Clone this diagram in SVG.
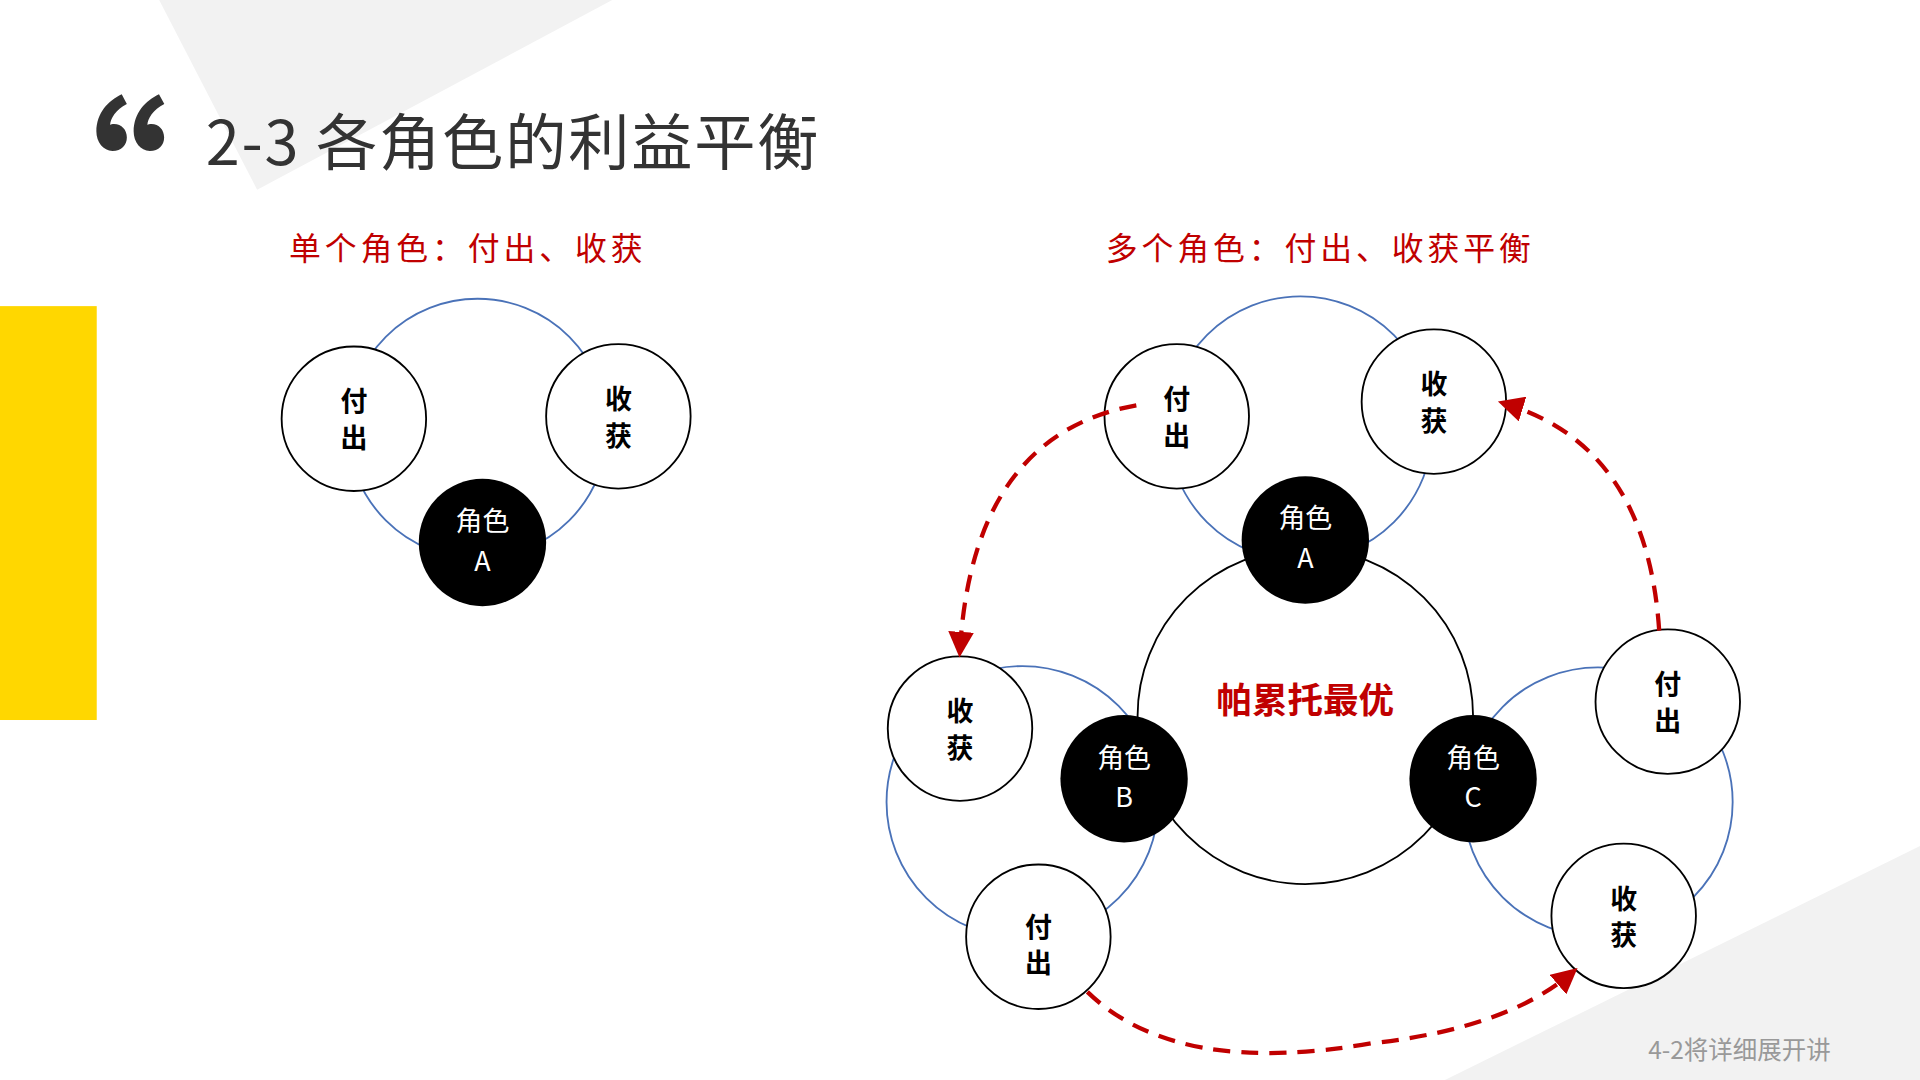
<svg xmlns="http://www.w3.org/2000/svg" width="1920" height="1080" viewBox="0 0 1920 1080">
<defs>
<style>
.t{font-family:"Noto Sans CJK SC","Liberation Sans",sans-serif}
.w{fill:#fff;stroke:#000;stroke-width:1.5}
.k{fill:#000}
.b{fill:none;stroke:#4a72b8;stroke-width:1.5}
.n{font-size:22px;font-weight:bold;text-anchor:middle;fill:#000}
.nw{font-size:22px;text-anchor:middle;fill:#fff}
.d{fill:none;stroke:#c00000;stroke-width:3.5;stroke-dasharray:14 9;marker-end:url(#ah)}
</style>
<marker id="ah" markerWidth="6" markerHeight="6" refX="4" refY="3" orient="auto" markerUnits="strokeWidth"><path d="M0,0L6,3L0,6z" fill="#c00000"/></marker>
</defs>
<rect width="1920" height="1080" fill="#fff"/>
<g transform="scale(1.2245)">
<polygon points="130,0 500,0 210,155" fill="#f2f2f2"/>
<polygon points="1180,882 1570,690 1570,882" fill="#f2f2f2"/>
<rect x="0" y="250" width="79" height="338" fill="#ffd700"/>
<text class="t" x="-12" y="207" font-size="150" font-weight="bold" fill="#333">“</text>
<text class="t" x="168" y="135" font-size="50" letter-spacing="1.5" fill="#333">2-3 各角色的利益平衡</text>
<text class="t" x="236" y="212" font-size="26" letter-spacing="3.2" fill="#c00000">单个角色：付出、收获</text>
<text class="t" x="903" y="212" font-size="26" letter-spacing="3.2" fill="#c00000">多个角色：付出、收获平衡</text>
<g id="left">
<circle class="b" cx="390" cy="350" r="106"/>
<circle class="w" cx="289" cy="342" r="59"/><text class="t n" x="289" y="336">付</text><text class="t n" x="289" y="366">出</text>
<circle class="w" cx="505" cy="340" r="59"/><text class="t n" x="505" y="334">收</text><text class="t n" x="505" y="364">获</text>
<circle class="k" cx="394" cy="443" r="52"/><text class="t nw" x="394" y="434">角色</text><text class="t nw" x="394" y="466">A</text>
</g>
<g id="center"><circle fill="none" stroke="#000" stroke-width="1.5" cx="1066" cy="585" r="137"/>
<text class="t" x="1066" y="582" font-size="29" font-weight="bold" fill="#c00000" text-anchor="middle">帕累托最优</text></g>
<g id="clusterA">
<circle class="b" cx="1062" cy="350" r="108"/>
<circle class="w" cx="961" cy="340" r="59"/><text class="t n" x="961" y="334">付</text><text class="t n" x="961" y="364">出</text>
<circle class="w" cx="1171" cy="328" r="59"/><text class="t n" x="1171" y="322">收</text><text class="t n" x="1171" y="352">获</text>
<circle class="k" cx="1066" cy="441" r="52"/><text class="t nw" x="1066" y="431">角色</text><text class="t nw" x="1066" y="464">A</text>
</g>
<g id="clusterB">
<circle class="b" cx="835" cy="655" r="111"/>
<circle class="w" cx="784" cy="595" r="59"/><text class="t n" x="784" y="589">收</text><text class="t n" x="784" y="619">获</text>
<circle class="w" cx="848" cy="765" r="59"/><text class="t n" x="848" y="765">付</text><text class="t n" x="848" y="795">出</text>
<circle class="k" cx="918" cy="636" r="52"/><text class="t nw" x="918" y="627">角色</text><text class="t nw" x="918" y="659">B</text>
</g>
<g id="clusterC">
<circle class="b" cx="1305" cy="655" r="110"/>
<circle class="w" cx="1362" cy="573" r="59"/><text class="t n" x="1362" y="567">付</text><text class="t n" x="1362" y="597">出</text>
<circle class="w" cx="1326" cy="748" r="59"/><text class="t n" x="1326" y="742">收</text><text class="t n" x="1326" y="772">获</text>
<circle class="k" cx="1203" cy="636" r="52"/><text class="t nw" x="1203" y="627">角色</text><text class="t nw" x="1203" y="659">C</text>
</g>
<g id="connectors">
<path class="d" d="M928,331 Q795,355 784,530"/>
<path class="d" d="M1355,515 Q1345,365 1230,330"/>
<path class="d" d="M888,810 Q960,880 1120,852 Q1230,840 1283,795"/>
</g>
<text class="t" x="1495" y="865" font-size="20" fill="#999" text-anchor="end">4-2将详细展开讲</text>
</g>
</svg>
